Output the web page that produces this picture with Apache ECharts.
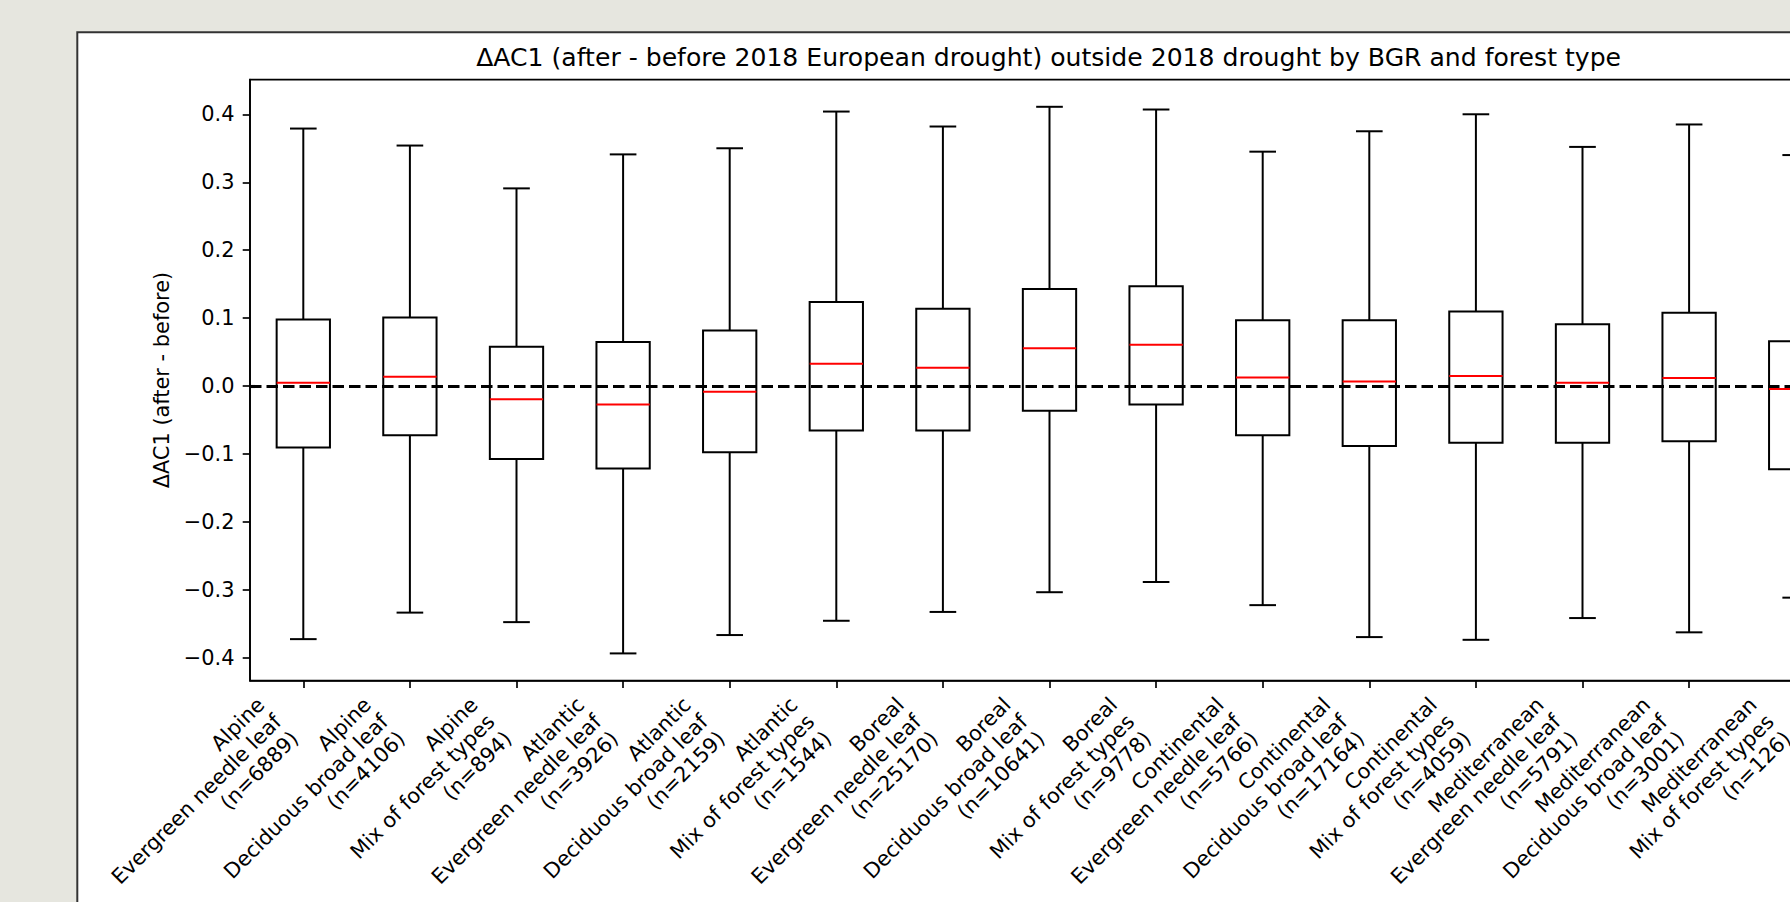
<!DOCTYPE html>
<html>
<head>
<meta charset="utf-8">
<script src="https://cdn.jsdelivr.net/npm/echarts@6/dist/echarts.min.js"></script>
<style>
html, body { margin: 0; padding: 0; background: #e6e6df; }
#chart { width: 1790px; height: 902px; }
</style>
</head>
<body>
<div id="chart"></div>
<script>
// ---- data ----
const regions = ['Alpine', 'Alpine', 'Alpine', 'Atlantic', 'Atlantic', 'Atlantic',
  'Boreal', 'Boreal', 'Boreal', 'Continental', 'Continental', 'Continental',
  'Mediterranean', 'Mediterranean', 'Mediterranean'];
const forestTypes = ['Evergreen needle leaf', 'Deciduous broad leaf', 'Mix of forest types',
  'Evergreen needle leaf', 'Deciduous broad leaf', 'Mix of forest types',
  'Evergreen needle leaf', 'Deciduous broad leaf', 'Mix of forest types',
  'Evergreen needle leaf', 'Deciduous broad leaf', 'Mix of forest types',
  'Evergreen needle leaf', 'Deciduous broad leaf', 'Mix of forest types'];
const counts = [6889, 4106, 894, 3926, 2159, 1544, 25170, 10641, 9778, 5766, 17164, 4059, 5791, 3001, 126];

const whiskerLow  = [-0.372, -0.333, -0.347, -0.393, -0.366, -0.345, -0.332, -0.303, -0.288, -0.322, -0.369, -0.373, -0.341, -0.362, -0.311];
const q1          = [-0.090, -0.072, -0.107, -0.121, -0.097, -0.065, -0.065, -0.036, -0.027, -0.072, -0.088, -0.083, -0.083, -0.081, -0.122];
const median      = [ 0.005,  0.014, -0.019, -0.027, -0.008,  0.033,  0.027,  0.056,  0.061,  0.013,  0.007,  0.015,  0.005,  0.012, -0.004];
const q3          = [ 0.098,  0.101,  0.058,  0.065,  0.082,  0.124,  0.114,  0.143,  0.147,  0.097,  0.097,  0.110,  0.091,  0.108,  0.066];
const whiskerHigh = [ 0.379,  0.354,  0.291,  0.341,  0.350,  0.404,  0.382,  0.411,  0.407,  0.345,  0.375,  0.400,  0.352,  0.385,  0.340];

const yTicks = [-0.4, -0.3, -0.2, -0.1, 0.0, 0.1, 0.2, 0.3, 0.4];
const yMin = -0.433;
const yMax = 0.451;
const referenceValue = 0;

const titleText = '\u0394AC1 (after - before 2018 European drought) outside 2018 drought by BGR and forest type';
const yAxisTitle = '\u0394AC1 (after - before)';

// ---- build ----
const categories = regions.map((r, i) => r + '\n' + forestTypes[i] + '\n(n=' + counts[i] + ')');
const boxData = categories.map((c, i) => [i, whiskerLow[i], q1[i], median[i], q3[i], whiskerHigh[i]]);

const FONT = 'DejaVu Sans';
const TICK_FONT = 20.9;
const chart = echarts.init(document.getElementById('chart'), null, { renderer: 'svg' });

function renderBox(params, api) {
  const i = api.value(0);
  const band = api.size([1, 0])[0];
  const cx = api.coord([i, 0])[0];
  const yLow = api.coord([i, api.value(1)])[1];
  const yQ1 = api.coord([i, api.value(2)])[1];
  const yMed = api.coord([i, api.value(3)])[1];
  const yQ3 = api.coord([i, api.value(4)])[1];
  const yHigh = api.coord([i, api.value(5)])[1];
  const hb = band * 0.25;
  const hc = band * 0.125;
  const lw = 2;
  const black = { stroke: '#000', lineWidth: lw, fill: 'none' };
  return {
    type: 'group',
    children: [
      { type: 'line', shape: { x1: cx, y1: yQ3, x2: cx, y2: yHigh }, style: black },
      { type: 'line', shape: { x1: cx, y1: yQ1, x2: cx, y2: yLow }, style: black },
      { type: 'line', shape: { x1: cx - hc, y1: yHigh, x2: cx + hc, y2: yHigh }, style: black },
      { type: 'line', shape: { x1: cx - hc, y1: yLow, x2: cx + hc, y2: yLow }, style: black },
      { type: 'rect', shape: { x: cx - hb, y: yQ3, width: 2 * hb, height: yQ1 - yQ3 }, style: black },
      { type: 'line', shape: { x1: cx - hb, y1: yMed, x2: cx + hb, y2: yMed }, style: { stroke: '#ff0000', lineWidth: lw } }
    ]
  };
}

const option = {
  animation: false,
  backgroundColor: '#e6e6df',
  title: {
    text: titleText,
    left: 1048.6,
    top: 45,
    padding: 0,
    textAlign: 'center',
    textStyle: { fontFamily: FONT, fontSize: 25.1, fontWeight: 'normal', color: '#000' }
  },
  graphic: [
    {
      type: 'rect', z: -10, silent: true,
      shape: { x: 77.3, y: 32.3, width: 3000, height: 3000 },
      style: { fill: '#ffffff', stroke: '#333333', lineWidth: 2 }
    }
  ],
  grid: {
    left: 250, top: 79.6, width: 1599, height: 601,
    show: true, borderColor: '#000', borderWidth: 1.67, backgroundColor: 'transparent',
    containLabel: false, outerBoundsMode: 'none'
  },
  xAxis: {
    type: 'category',
    data: categories,
    boundaryGap: true,
    axisLine: { show: true, onZero: false, lineStyle: { color: '#000', width: 1.67 } },
    axisTick: { show: true, alignWithLabel: true, length: 7.3, lineStyle: { color: '#000', width: 1.67 } },
    splitLine: { show: false },
    axisLabel: {
      interval: 0, rotate: 45, align: 'right', verticalAlign: 'bottom',
      margin: 63, fontFamily: FONT, fontSize: TICK_FONT, lineHeight: 24, color: '#000'
    }
  },
  yAxis: {
    type: 'value',
    min: yMin, max: yMax,
    name: yAxisTitle,
    nameLocation: 'middle',
    nameGap: 74,
    nameTextStyle: { fontFamily: FONT, fontSize: TICK_FONT, color: '#000' },
    axisLine: { show: true, lineStyle: { color: '#000', width: 1.67 } },
    axisTick: { show: true, length: 7.3, customValues: yTicks, lineStyle: { color: '#000', width: 1.67 } },
    splitLine: { show: false },
    axisLabel: {
      customValues: yTicks, margin: 15.5,
      fontFamily: FONT, fontSize: TICK_FONT, color: '#000',
      formatter: v => (v < 0 ? '\u2212' : '') + Math.abs(v).toFixed(1)
    }
  },
  series: [
    {
      type: 'custom',
      renderItem: renderBox,
      data: boxData,
      encode: { x: 0, y: [1, 2, 3, 4, 5] },
      z: 2,
      silent: true,
      markLine: {
        silent: true,
        symbol: ['none', 'none'],
        label: { show: false },
        emphasis: { disabled: true },
        lineStyle: { color: '#000', width: 3.1, type: [11.5, 5], opacity: 1 },
        data: [{ yAxis: referenceValue }]
      }
    }
  ]
};
chart.setOption(option);
</script>
</body>
</html>
